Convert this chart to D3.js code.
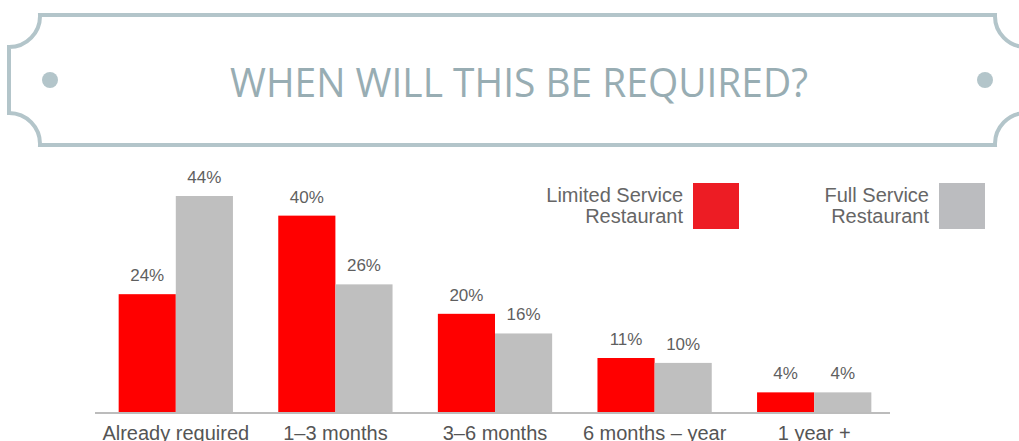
<!DOCTYPE html>
<html>
<head>
<meta charset="utf-8">
<script src="https://cdn.jsdelivr.net/npm/d3@7"></script>
<style>
  body { margin: 0; background: #fff; }
  svg { display: block; }
</style>
</head>
<body>
<script>
// chart data
var categories = ["Already required", "1\u20133 months", "3\u20136 months", "6 months \u2013 year", "1 year +"];
var limitedService = [24, 40, 20, 11, 4];
var fullService = [44, 26, 16, 10, 4];
var seriesNames = ["Limited Service Restaurant", "Full Service Restaurant"];
var titleText = "WHEN WILL THIS BE REQUIRED?";

var width = 1019, height = 441;
var frameColor = "#b3c5ca";

var svg = d3.select("body").append("svg")
    .attr("width", width)
    .attr("height", height);

// decorative frame round the title
var cx = 517.5;
function mx(x) { return 2 * cx - x; }
var r = 31;
var top_ = 15, bot = 145, inL = 40, outL = 9;
var framePath = "M" + inL + "," + top_ + " L" + mx(inL) + "," + top_ +
    " A" + r + "," + r + " 0 0 0 " + mx(outL) + "," + (top_ + r + 1) +
    " L" + mx(outL) + "," + (bot - r - 1) +
    " A" + r + "," + r + " 0 0 0 " + mx(inL) + "," + bot +
    " L" + inL + "," + bot +
    " A" + r + "," + r + " 0 0 0 " + outL + "," + (bot - r - 1) +
    " L" + outL + "," + (top_ + r + 1) +
    " A" + r + "," + r + " 0 0 0 " + inL + "," + top_ + " Z";

svg.append("path")
    .attr("d", framePath)
    .attr("fill", "none")
    .attr("stroke", frameColor)
    .attr("stroke-width", 4);

svg.selectAll("circle.dot")
    .data([50, mx(50)])
    .enter().append("circle")
    .attr("class", "dot")
    .attr("cx", function(d){ return d; })
    .attr("cy", 80)
    .attr("r", 8)
    .attr("fill", frameColor);

svg.append("text")
    .attr("x", 519)
    .attr("y", 97)
    .attr("text-anchor", "middle")
    .attr("font-family", "'Open Sans', sans-serif")
    .attr("font-weight", 400)
    .attr("font-size", 41)
    .attr("textLength", 578)
    .attr("lengthAdjust", "spacingAndGlyphs")
    .attr("fill", "#98adb3")
    .text(titleText);

// scales
var x = d3.scaleBand()
    .domain(categories)
    .range([96, 894])
    .paddingInner(0.284)
    .paddingOuter(0.142);

var x1 = d3.scaleBand()
    .domain([0, 1])
    .range([0, x.bandwidth()]);

var y = d3.scaleLinear()
    .domain([0, 44])
    .range([412, 196]);

var colors = ["#ff0000", "#bfbfbf"];

var rows = categories.map(function(c, i){
    return {cat: c, vals: [limitedService[i], fullService[i]]};
});

var groups = svg.selectAll("g.grp")
    .data(rows)
    .enter().append("g")
    .attr("class", "grp")
    .attr("transform", function(d){ return "translate(" + x(d.cat) + ",0)"; });

groups.selectAll("rect")
    .data(function(d){ return d.vals; })
    .enter().append("rect")
    .attr("x", function(d, i){ return x1(i); })
    .attr("y", function(d){ return y(d); })
    .attr("width", x1.bandwidth())
    .attr("height", function(d){ return y(0) - y(d); })
    .attr("fill", function(d, i){ return colors[i]; });

groups.selectAll("text.val")
    .data(function(d){ return d.vals; })
    .enter().append("text")
    .attr("class", "val")
    .attr("x", function(d, i){ return x1(i) + x1.bandwidth() / 2; })
    .attr("y", function(d){ return y(d) - 13; })
    .attr("text-anchor", "middle")
    .attr("font-family", "'Liberation Sans', Arial, sans-serif")
    .attr("font-size", 17)
    .attr("fill", "#5f5f5f")
    .text(function(d){ return d + "%"; });

// x axis
var xAxis = svg.append("g")
    .attr("transform", "translate(0," + (y(0) + 1) + ")")
    .call(d3.axisBottom(x).tickSize(0).tickPadding(13));

xAxis.select(".domain")
    .attr("d", "M95,0H890")
    .attr("stroke", "#a6a6a6")
    .attr("stroke-width", 1.5);

xAxis.selectAll("text")
    .attr("font-family", "'Liberation Sans', Arial, sans-serif")
    .attr("font-size", 20)
    .attr("fill", "#555")
    .attr("dy", "0.71em");

// legend
var legendX = [739, 985];
var legendColors = ["#ed1c24", "#bbbcbf"];
var legend = svg.selectAll("g.legend")
    .data(seriesNames)
    .enter().append("g")
    .attr("class", "legend")
    .attr("transform", function(d, i){ return "translate(" + legendX[i] + ",183)"; });

legend.append("rect")
    .attr("x", -46)
    .attr("y", 0)
    .attr("width", 46)
    .attr("height", 46)
    .attr("fill", function(d, i){ return legendColors[i]; });

legend.each(function(d){
    var words = d.split(" ");
    var line1 = words.slice(0, 2).join(" ");
    var line2 = words.slice(2).join(" ");
    var t = d3.select(this).append("text")
        .attr("text-anchor", "end")
        .attr("font-family", "'Liberation Sans', Arial, sans-serif")
        .attr("font-size", 20)
        .attr("fill", "#666");
    t.append("tspan").attr("x", -56).attr("y", 19).text(line1);
    t.append("tspan").attr("x", -56).attr("y", 40).text(line2);
});
</script>
</body>
</html>
